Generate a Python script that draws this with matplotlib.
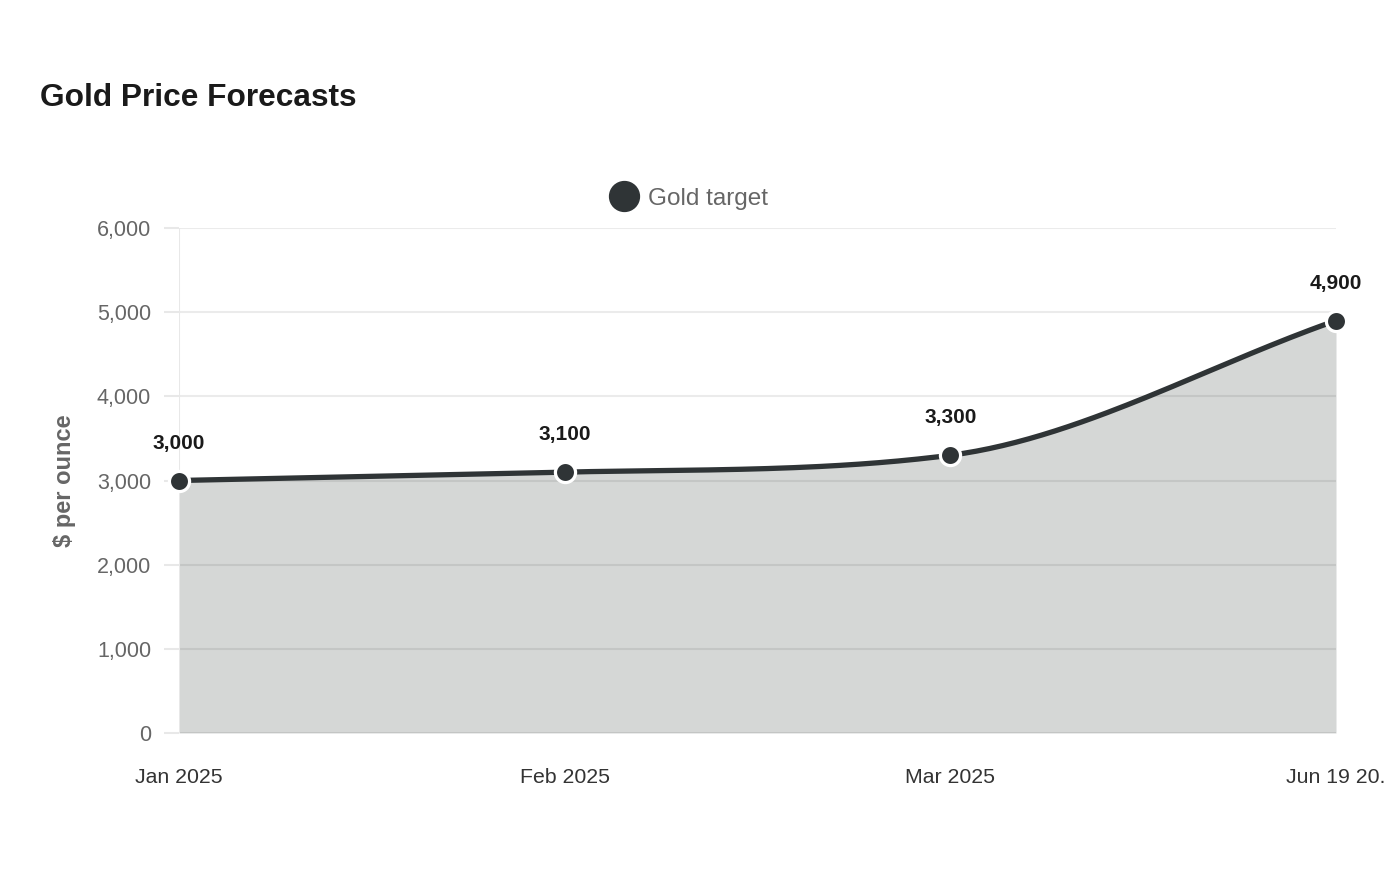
import numpy as np
import matplotlib
matplotlib.use("Agg")
import matplotlib.pyplot as plt
from matplotlib.lines import Line2D

plt.rcParams["font.family"] = ["Liberation Sans", "DejaVu Sans"]

# data
categories = ["Jan 2025", "Feb 2025", "Mar 2025", "Jun 19 20."]
gold_target = [3000, 3100, 3300, 4900]
y_ticks = [0, 1000, 2000, 3000, 4000, 5000, 6000]

LINE = "#2f3436"
FILL = "#d5d7d6"
GRID = "#e8e8e8"


def monotone_curve(xs, ys, n=60):
    # chart.js style monotone cubic, only used to draw the smooth line
    xs = np.asarray(xs, float)
    ys = np.asarray(ys, float)
    d = np.diff(ys) / np.diff(xs)
    m = np.empty(len(xs))
    m[0], m[-1] = d[0], d[-1]
    m[1:-1] = (d[:-1] + d[1:]) / 2
    for k in range(len(d)):
        if d[k] == 0:
            m[k] = m[k + 1] = 0
            continue
        a, b = m[k] / d[k], m[k + 1] / d[k]
        s = a * a + b * b
        if s > 9:
            t = 3 / np.sqrt(s)
            m[k] = a * t * d[k]
            m[k + 1] = b * t * d[k]
    px, py = [], []
    for k in range(len(d)):
        h = xs[k + 1] - xs[k]
        t = np.linspace(0, 1, n)
        h00 = 2 * t**3 - 3 * t**2 + 1
        h10 = t**3 - 2 * t**2 + t
        h01 = -2 * t**3 + 3 * t**2
        h11 = t**3 - t**2
        px.extend(xs[k] + t * h)
        py.extend(h00 * ys[k] + h10 * h * m[k] + h01 * ys[k + 1] + h11 * h * m[k + 1])
    return np.array(px), np.array(py)


x = np.arange(len(categories))
cx, cy = monotone_curve(x, gold_target)

fig = plt.figure(figsize=(14, 8.8), dpi=100)
ax = fig.add_axes([179 / 1400, 1 - 733 / 880, (1336 - 179) / 1400, (733 - 228) / 880])

ax.fill_between(cx, 0, cy, color=FILL, lw=0, zorder=1)
for yt in y_ticks[1:]:
    ax.axhline(yt, color="black", alpha=0.08, lw=1.5, zorder=2)
ax.axhline(0, color="black", alpha=0.09, lw=2, zorder=2)
ax.axvline(0, color=GRID, lw=1.5, zorder=2)

ax.plot(cx, cy, color=LINE, lw=3.8, solid_capstyle="round", zorder=3, clip_on=False)
ax.plot(x, gold_target, "o", ms=14.5, mfc=LINE, mec="white", mew=2.3, zorder=4, clip_on=False)

for xi, v in zip(x, gold_target):
    ax.annotate(f"{v:,}", (xi, v), xytext=(0, 27), textcoords="offset points",
                ha="center", va="center", fontsize=15, fontweight="bold", color="#1a1a1a")

ax.set_xlim(0, len(categories) - 1)
ax.set_ylim(0, 6000)
ax.set_yticks(y_ticks)
ax.set_yticklabels([f"{v:,}" for v in y_ticks])
ax.set_xticks(x)
ax.set_xticklabels(categories)
ax.tick_params(axis="y", length=11, width=1.5, color=GRID, pad=9, labelsize=15.5, labelcolor="#666666")
ax.tick_params(axis="x", length=0, pad=25, labelsize=15.3, labelcolor="#333333")
for s in ax.spines.values():
    s.set_visible(False)

ax.set_ylabel("$ per ounce", fontsize=17, fontweight="bold", color="#666666", labelpad=15)

fig.text(40 / 1400, 1 - 98 / 880, "Gold Price Forecasts", fontsize=22.8, fontweight="bold",
         color="#1a1a1a", ha="left", va="center")

handle = Line2D([], [], marker="o", ls="none", ms=21.5, mfc=LINE, mec=LINE)
fig.legend([handle], ["Gold target"], loc="center", bbox_to_anchor=(684 / 1400, 1 - 199 / 880),
           frameon=False, fontsize=17.5, labelcolor="#666666", handletextpad=0.0, borderpad=0)

fig.savefig("out.png", dpi=100)
